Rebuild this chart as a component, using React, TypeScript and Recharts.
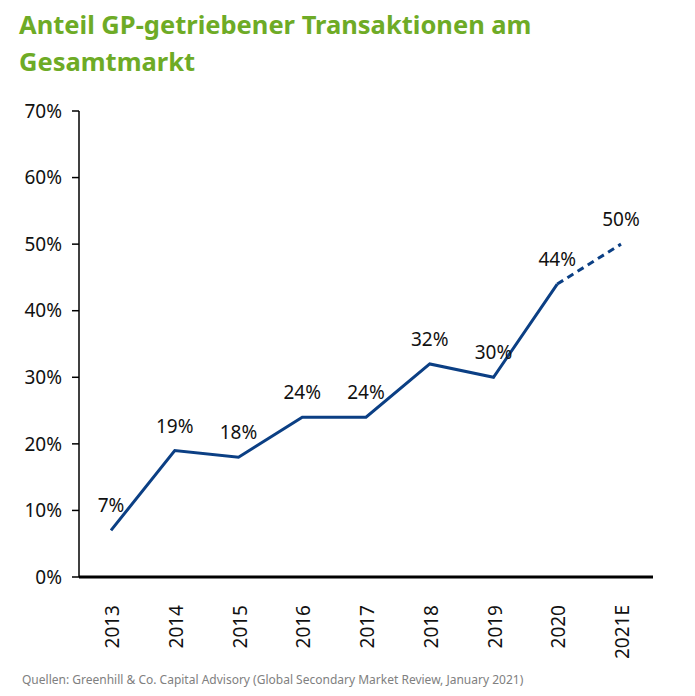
import React from "react";
import { LineChart, Line, XAxis, YAxis, LabelList } from "recharts";

const years = ["2013", "2014", "2015", "2016", "2017", "2018", "2019", "2020", "2021E"];
const actualShare = [7, 19, 18, 24, 24, 32, 30, 44, null];
const estimateShare = [null, null, null, null, null, null, null, 44, 50];
const yTicks = [0, 10, 20, 30, 40, 50, 60, 70];

const data = years.map((year, i) => ({
  year,
  actual: actualShare[i],
  estimate: estimateShare[i],
}));

const FONT = "'Noto Sans', sans-serif";
const BLUE = "#0b3f84";

const YearTick = (props: any) => {
  const { x, y, payload } = props;
  return (
    <text
      transform={`translate(${x + 1},${y + 20}) rotate(-90)`}
      textAnchor="end"
      dominantBaseline="central"
      fontSize={19}
      fontFamily={FONT}
      fill="#111"
    >
      {payload.value}
    </text>
  );
};

// labels above the points; the estimate series only labels its last point
const pointLabel = (onlyLast: boolean) => (props: any) => {
  const { x, y, value, index } = props;
  if (value == null) return null;
  if (onlyLast && index !== years.length - 1) return null;
  return (
    <text x={x} y={y - 18} textAnchor="middle" fontSize={19} fontFamily={FONT} fill="#111">
      {value}%
    </text>
  );
};

export default function App() {
  return (
    <div style={{ position: "absolute", left: 0, top: 0, width: 695, height: 696, background: "#fff" }}>
      <div
        style={{
          position: "absolute",
          left: 19,
          top: 6,
          fontFamily: FONT,
          fontWeight: 700,
          fontSize: 25.5,
          lineHeight: "37px",
          color: "#6eab26",
          whiteSpace: "nowrap",
        }}
      >
        Anteil GP-getriebener Transaktionen am
        <br />
        Gesamtmarkt
      </div>

      <LineChart
        width={695}
        height={696}
        data={data}
        margin={{ top: 111, right: 42, bottom: 0, left: 0 }}
      >
        <XAxis
          dataKey="year"
          height={119}
          padding={{ left: 32, right: 32 }}
          axisLine={{ stroke: "#000", strokeWidth: 3 }}
          tickLine={false}
          tick={<YearTick />}
          interval={0}
        />
        <YAxis
          width={79}
          domain={[0, 70]}
          ticks={yTicks}
          tickFormatter={(v) => `${v}%`}
          axisLine={{ stroke: "#000", strokeWidth: 1.5 }}
          tickLine={{ stroke: "#000", strokeWidth: 1.5 }}
          tickSize={7}
          tickMargin={10}
          tick={{ fontSize: 19, fontFamily: FONT, fill: "#111" }}
        />
        <Line
          dataKey="actual"
          stroke={BLUE}
          strokeWidth={3}
          dot={false}
          isAnimationActive={false}
        >
          <LabelList dataKey="actual" content={pointLabel(false)} />
        </Line>
        <Line
          dataKey="estimate"
          stroke={BLUE}
          strokeWidth={3}
          strokeDasharray="7 5"
          dot={false}
          isAnimationActive={false}
        >
          <LabelList dataKey="estimate" content={pointLabel(true)} />
        </Line>
      </LineChart>

      <div
        style={{
          position: "absolute",
          left: 22,
          top: 671,
          fontFamily: FONT,
          fontSize: 12,
          color: "#808080",
        }}
      >
        Quellen: Greenhill &amp; Co. Capital Advisory (Global Secondary Market Review, January 2021)
      </div>
    </div>
  );
}
